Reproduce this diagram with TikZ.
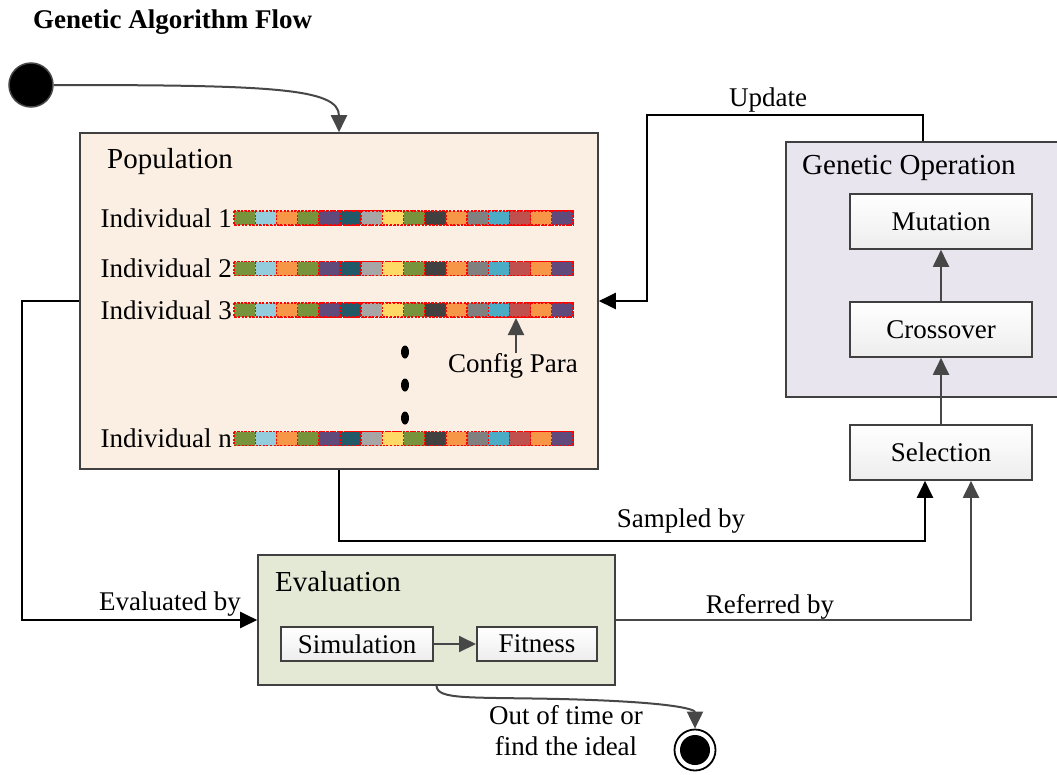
\documentclass[tikz,border=0pt]{standalone}
\usepackage{fontspec}
\setmainfont{Liberation Serif}
\usetikzlibrary{arrows.meta,calc}

\definecolor{popfill}{HTML}{FBEEE3}
\definecolor{opfill}{HTML}{E8E5EF}
\definecolor{evalfill}{HTML}{E4E9D6}
\definecolor{edge}{HTML}{404040}
\definecolor{darkline}{HTML}{474747}

\tikzset{
  body/.style={font=\fontsize{27}{31}\selectfont, inner sep=0pt},
  ctitle/.style={font=\fontsize{29}{33}\selectfont, inner sep=0pt, anchor=west},
  container/.style={draw=edge, line width=1.6pt, inner sep=0pt},
  opbox/.style={draw=edge, line width=1.6pt, top color=white, bottom color=gray!14,
    minimum width=182pt, minimum height=55pt, body},
  evbox/.style={draw=edge, line width=1.6pt, top color=white, bottom color=gray!14,
    minimum height=34pt, body},
  barrow/.style={draw=black, line width=2.2pt, -{Triangle[length=17pt,width=16pt]}},
  garrow/.style={draw=darkline, line width=2pt, -{Triangle[length=17pt,width=16pt]}},
  chrom/.style={draw=red, line width=1.3pt, dash pattern=on 2pt off 1.6pt,
    minimum width=339pt, minimum height=14pt, inner sep=0pt, anchor=west},
}

% one chromosome: 16 coloured genes with dotted red outlines
\newcommand\genebar[2]{%
  \node[chrom] (#1) at (234,#2) {};
  \foreach \c [count=\i from 0] in {77933C,93CDDD,F79646,77933C,5F4A7B,215968,A6A6A6,FFD966,77933C,404040,F79646,808080,4BACC6,C0504D,F79646,5F4A7B}{
    \definecolor{genec}{HTML}{\c}
    \fill[genec] ($(#1.west)+(\i*21.1875,-7)$) rectangle ++(21.1875,14);
    \draw[red, line width=1.3pt, dash pattern=on 2pt off 1.6pt]
      ($(#1.west)+(\i*21.1875,-7)$) rectangle ++(21.1875,14);
  }
}

\begin{document}
\begin{tikzpicture}[x=1pt,y=-1pt]
\useasboundingbox (0,0) rectangle (1057,774);

% title
\node[font=\fontsize{27}{31}\selectfont\bfseries, inner sep=0pt, anchor=west] (title) at (33,22) {Genetic Algorithm Flow};

% initial state
\node[circle, fill=black, draw=darkline, line width=1.5pt, minimum size=44pt, inner sep=0pt] (start) at (31,85) {};

% population
\node[container, fill=popfill, minimum width=518pt, minimum height=336pt] (pop) at (339,301) {};
\node[ctitle] (poptitle) at (107,162) {Population};

\genebar{bar1}{218}
\genebar{bar2}{268.5}
\genebar{bar3}{310}
\genebar{barn}{438.5}

\node[body, anchor=east] (ind1) at (232,218) {Individual 1};
\node[body, anchor=east] (ind2) at (232,268.5) {Individual 2};
\node[body, anchor=east] (ind3) at (232,310) {Individual 3};
\node[body, anchor=east] (indn) at (232,438.5) {Individual n};

\fill (405,352) ellipse (4pt and 6.5pt);
\fill (405,385) ellipse (4pt and 6.5pt);
\fill (405,418) ellipse (4pt and 6.5pt);

\node[body] (cfg) at (513,366) {Config Para};
\coordinate (cfgtip) at (516,318);
\draw[garrow] (cfgtip |- cfg.north) -- (cfgtip);

% genetic operation
\node[container, fill=opfill, minimum width=274pt, minimum height=255pt] (genop) at (923,269.5) {};
\node[ctitle] (optitle) at (802,168) {Genetic Operation};
\node[opbox] (mut) at (941,221.5) {Mutation};
\node[opbox] (cross) at (941,329.5) {Crossover};
\node[opbox] (sel) at (941,452.5) {Selection};
\draw[garrow] (sel.north) -- (cross.south);
\draw[garrow] (cross.north) -- (mut.south);

% evaluation
\node[container, fill=evalfill, minimum width=357pt, minimum height=130pt] (eval) at (436.5,620) {};
\node[ctitle] (evtitle) at (275,582) {Evaluation};
\node[evbox, minimum width=152pt] (sim) at (357,644) {Simulation};
\node[evbox, minimum width=120pt, line width=2pt] (fit) at (537,644) {Fitness};
\draw[garrow] (sim.east) -- (fit.west);

% final state
\node[circle, draw=black, line width=1.8pt, fill=white, minimum size=41pt, inner sep=0pt] (stop) at (695,750) {};
\fill (stop.center) circle (15pt);

% flow
\draw[garrow] (start.east) .. controls (270,85) and (339,88) .. (pop.north);

\coordinate (u1) at (647,115);
\draw[barrow] (genop.north) |- (u1) |- (pop.east);
\node[body] (updlbl) at (768,100) {Update};

\coordinate (e1) at (22,301);
\draw[barrow] (pop.west) -- (e1) |- (eval.west);
\node[body] (evlbl) at (170,604) {Evaluated by};

\coordinate (sy) at (0,541);
\draw[barrow] (pop.south) -- (pop.south |- sy) -| ([xshift=-16pt]sel.south);
\node[body] (smplbl) at (681,521) {Sampled by};

\draw[garrow] (eval.east) -| ([xshift=30pt]sel.south);
\node[body] (reflbl) at (770,607) {Referred by};

\draw[garrow] (eval.south) .. controls (437,700) and (470,697) .. (560,699)
  .. controls (680,702) and (695,710) .. (stop.north);
\node[body, align=center, font=\fontsize{27}{31}\selectfont] (endlbl) at (566,731) {Out of time or\\find the ideal};

\end{tikzpicture}
\end{document}
